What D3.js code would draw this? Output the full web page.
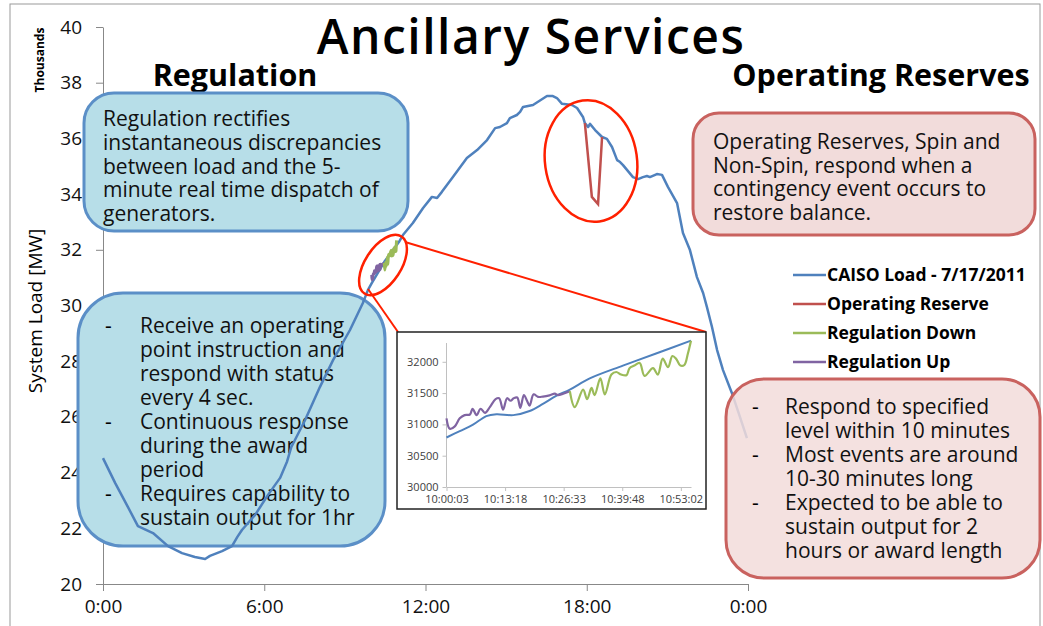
<!DOCTYPE html>
<html>
<head>
<meta charset="utf-8">
<script src="https://cdn.jsdelivr.net/npm/d3@7"></script>
<style>
  body { margin: 0; background: #fff; }
  text { font-family: "Open Sans", Lato, sans-serif; }
</style>
</head>
<body>
<div id="chart"></div>
<script>
const width = 1043;
const height = 626;

// CAISO load 7/17/2011, hour of day -> MW
const loadHours = [0, 0.45, 0.93, 1.3, 1.86, 2.42, 2.94, 3.42, 3.8, 3.98, 4.43, 4.8, 5.0, 5.17, 5.66, 6.14, 6.59, 6.85, 7.0,
  7.52, 8.07, 8.56, 9.19, 9.67, 9.86, 10.0, 10.49, 10.6, 11.01, 11.16, 11.53, 11.91, 12.24, 12.43, 12.61, 13.02, 13.54,
  13.92, 14.29, 14.59, 14.77, 15.03, 15.14, 15.4, 15.52, 15.63, 16.0, 16.52, 16.74, 16.89, 17.08, 17.45, 17.64, 17.86,
  17.93, 18.05, 18.12, 18.31, 18.57, 18.75, 18.94, 19.13, 19.24, 19.35, 19.72, 19.91, 20.09, 20.24, 20.35, 20.61, 20.8,
  21.02, 21.36, 21.58, 21.84, 22.1, 22.33, 22.47, 22.66, 22.85, 23.07, 23.4, 23.7, 23.96];
const loadMW = [24520, 23630, 22760, 22080, 21830, 21360, 21110, 20970, 20900, 21010, 21180, 21360, 21690, 21940, 22480, 23200, 23810, 24400, 24900,
  25890, 27070, 28040, 29120, 30090, 30560, 30800, 31600, 31740, 32280, 32530, 32960, 33500, 33900, 33860, 34080, 34610, 35300,
  35580, 35940, 36370, 36410, 36550, 36730, 36840, 36950, 37130, 37200, 37520, 37520, 37450, 37240, 37200, 37090, 36770,
  36550, 36410, 36520, 36300, 36050, 35980, 35690, 35220, 35150, 35040, 34610, 34540, 34610, 34650, 34610, 34720, 34690,
  34260, 33680, 32600, 31990, 31020, 30450, 29950, 29230, 28400, 27680, 26860, 26000, 25240];

// Operating reserve event
const reserveHours = [17.93, 18.19, 18.42, 18.57];
const reserveMW = [36550, 33900, 33640, 36050];

// Inset: minutes after 10:00:03
const insetLoadMin = [0, 3.0, 6.0, 9.0, 11.3, 15.1, 18.8, 21.8, 24.8, 27.9, 32.4, 39.9, 47.4, 55.3];
const insetLoadMW = [30791, 30893, 30995, 31133, 31163, 31148, 31214, 31327, 31454, 31556, 31735, 31939, 32133, 32337];
const regUpMin = [0, 0.75, 1.88, 3.0, 4.1, 5.3, 5.9, 6.8, 7.7, 8.7, 9.8, 11.1, 11.9, 12.8, 13.7, 14.5, 15.2, 16.0, 16.7,
  17.5, 18.2, 18.8, 19.7, 20.7, 21.8, 23.3, 24.5, 25.2, 26.4, 27.9];
const regUpMW = [31097, 30929, 30969, 31097, 31148, 31158, 31250, 31148, 31250, 31184, 31276, 31403, 31418, 31235, 31418,
  31378, 31418, 31429, 31265, 31469, 31378, 31301, 31480, 31439, 31444, 31464, 31490, 31469, 31490, 31530];
const regDownMin = [27.9, 29.0, 30.9, 31.8, 32.8, 33.5, 34.8, 35.8, 37.3, 38.4, 39.5, 40.7, 41.4, 42.5, 43.7, 44.8, 46.7,
  47.8, 48.9, 50.1, 51.1, 52.0, 52.9, 53.8, 54.6, 55.3];
const regDownMW = [31530, 31276, 31556, 31403, 31582, 31469, 31735, 31480, 31796, 31837, 31796, 31786, 31898, 31939, 31980,
  31776, 31898, 31796, 32051, 31913, 32092, 32041, 31939, 31949, 32133, 32337];

const yTicks = [20000, 22000, 24000, 26000, 28000, 30000, 32000, 34000, 36000, 38000, 40000];
const xTicks = [0, 6, 12, 18, 24];
const xTickLabels = ["0:00", "6:00", "12:00", "18:00", "0:00"];
const insetYTicks = [30000, 30500, 31000, 31500, 32000];
const insetXTicks = [0, 13.25, 26.5, 39.75, 53];
const insetXLabels = ["10:00:03", "10:13:18", "10:26:33", "10:39:48", "10:53:02"];

const legendNames = ["CAISO Load - 7/17/2011", "Operating Reserve", "Regulation Down", "Regulation Up"];
const colors = ["#4f81bd", "#c0504d", "#9bbb59", "#8064a2"];

const zip = (a, b) => a.map((d, i) => [d, b[i]]);

const svg = d3.select("#chart")
    .append("svg")
    .attr("width", width)
    .attr("height", height);

// outer frame
svg.append("rect")
    .attr("x", 10).attr("y", 4)
    .attr("width", 1030).attr("height", 660)
    .attr("fill", "none").attr("stroke", "#9a9a9a").attr("stroke-width", 1);

// Scales
const x = d3.scaleLinear().domain([0, 24]).range([103, 748]);
const y = d3.scaleLinear().domain([20000, 40000]).range([584, 27]);

// ----- Axes -----
const gY = svg.append("g")
    .attr("transform", "translate(103,0)")
    .call(d3.axisLeft(y).tickValues(yTicks).tickFormat(d => d / 1000).tickSize(7).tickSizeOuter(0).tickPadding(14));
const gX = svg.append("g")
    .attr("transform", "translate(0,584)")
    .call(d3.axisBottom(x).tickValues(xTicks).tickFormat((d, i) => xTickLabels[i]).tickSize(7).tickSizeOuter(0).tickPadding(9));
[gX, gY].forEach(g => {
    g.selectAll("path, line").attr("stroke", "#888");
    g.selectAll("text").attr("font-size", 19).attr("fill", "#111").attr("font-family", "'Open Sans', sans-serif");
});

svg.append("text")
    .attr("transform", "translate(42,311) rotate(-90)")
    .attr("text-anchor", "middle")
    .attr("font-size", 19)
    .attr("font-family", "Lato, sans-serif")
    .text("System Load [MW]");
svg.append("text")
    .attr("transform", "translate(44,60) rotate(-90)")
    .attr("text-anchor", "middle")
    .attr("font-size", 12)
    .attr("font-weight", "bold")
    .attr("font-family", "Lato, sans-serif")
    .text("Thousands");

// Titles
svg.append("text").attr("x", 531).attr("y", 54).attr("text-anchor", "middle")
    .attr("font-size", 48).attr("font-weight", 600).attr("letter-spacing", 1.5).text("Ancillary Services");
svg.append("text").attr("x", 235).attr("y", 86).attr("text-anchor", "middle")
    .attr("font-size", 30.5).attr("font-weight", "bold").text("Regulation");
svg.append("text").attr("x", 881).attr("y", 86).attr("text-anchor", "middle")
    .attr("font-size", 30.5).attr("font-weight", "bold").text("Operating Reserves");

// ----- Callout boxes -----
const boxFont = 21;
function box(x0, y0, x1, y1, r, fill, stroke, op) {
    return svg.append("rect")
        .attr("x", x0).attr("y", y0)
        .attr("width", x1 - x0).attr("height", y1 - y0)
        .attr("rx", r).attr("ry", r)
        .attr("fill", fill).attr("fill-opacity", op)
        .attr("stroke", stroke).attr("stroke-width", 3);
}
function lines(x0, y0, arr, step) {
    const t = svg.append("text").attr("font-size", boxFont).attr("fill", "#111");
    arr.forEach((s, i) => t.append("tspan").attr("x", x0).attr("y", y0 + i * step).text(s));
}
function bullets(xd, xt, y0, step, items) {
    let row = 0;
    items.forEach(item => {
        svg.append("text").attr("x", xd).attr("y", y0 + row * step).attr("font-size", boxFont).text("-");
        lines(xt, y0 + row * step, item, step);
        row += item.length;
    });
}

box(84, 93, 408, 231, 30, "#b7dee8", "#5b8fc7", 1);
lines(103, 126, ["Regulation rectifies", "instantaneous discrepancies", "between load and the 5-",
    "minute real time dispatch of", "generators."], 23.8);

box(78, 293, 385, 546, 45, "#b7dee8", "#5b8fc7", 1);
bullets(105, 140, 333, 24, [
    ["Receive an operating", "point instruction and", "respond with status", "every 4 sec."],
    ["Continuous response", "during the award", "period"],
    ["Requires capability to", "sustain output for 1hr"]
]);

box(693, 113, 1035, 235, 26, "#f2dcdb", "#c9625f", 1);
lines(713, 149, ["Operating Reserves, Spin and", "Non-Spin, respond when a",
    "contingency event occurs to", "restore balance."], 23.5);

// ----- Lines -----
const line = d3.line().x(d => x(d[0])).y(d => y(d[1]));
svg.append("path")
    .datum(zip(loadHours, loadMW))
    .attr("d", line)
    .attr("fill", "none").attr("stroke", colors[0]).attr("stroke-width", 2.5)
    .attr("stroke-linejoin", "round");
svg.append("path")
    .datum(zip(reserveHours, reserveMW))
    .attr("d", line)
    .attr("fill", "none").attr("stroke", colors[1]).attr("stroke-width", 2.5);

const toHour = m => 10 + 3 / 3600 + m / 60;
const smooth = d3.line().curve(d3.curveCatmullRom).x(d => x(toHour(d[0]))).y(d => y(d[1]));
svg.append("path").datum(zip(regUpMin, regUpMW)).attr("d", smooth)
    .attr("fill", "none").attr("stroke", colors[3]).attr("stroke-width", 3);
svg.append("path").datum(zip(regDownMin, regDownMW)).attr("d", smooth)
    .attr("fill", "none").attr("stroke", colors[2]).attr("stroke-width", 3);

// lower right box, drawn over the line
box(726, 379, 1040, 578, 38, "#f2dcdb", "#c9625f", 0.85);
bullets(752, 785, 414, 24, [
    ["Respond to specified", "level within 10 minutes"],
    ["Most events are around", "10-30 minutes long"],
    ["Expected to be able to", "sustain output for 2", "hours or award length"]
]);

// ----- Annotation ellipses -----
svg.append("ellipse")
    .attr("transform", "translate(383,265) rotate(-57)")
    .attr("rx", 34).attr("ry", 18)
    .attr("fill", "none").attr("stroke", "#ff2000").attr("stroke-width", 2.5);
svg.append("ellipse")
    .attr("transform", "translate(591,161) rotate(-8)")
    .attr("rx", 46).attr("ry", 61)
    .attr("fill", "none").attr("stroke", "#ff2000").attr("stroke-width", 2.5);
svg.append("line").attr("x1", 368).attr("y1", 289).attr("x2", 398).attr("y2", 332)
    .attr("stroke", "#ff2000").attr("stroke-width", 2);
svg.append("line").attr("x1", 405).attr("y1", 242).attr("x2", 706).attr("y2", 332)
    .attr("stroke", "#ff2000").attr("stroke-width", 2);

// ----- Legend -----
const legend = svg.append("g");
legendNames.forEach((name, i) => {
    const ly = 275 + i * 29;
    legend.append("line").attr("x1", 793).attr("x2", 826).attr("y1", ly).attr("y2", ly)
        .attr("stroke", colors[i]).attr("stroke-width", 2.5);
    legend.append("text").attr("x", 827).attr("y", ly + 6)
        .attr("font-size", 17.5).attr("font-weight", "bold").text(name);
});

// ----- Inset -----
const inset = svg.append("g");
inset.append("rect").attr("x", 397).attr("y", 332).attr("width", 309).attr("height", 177)
    .attr("fill", "#fff").attr("stroke", "#222").attr("stroke-width", 1.5);
const ix = d3.scaleLinear().domain([0, 55.3]).range([446.5, 691]);
const iy = d3.scaleLinear().domain([30000, 32300]).range([487, 343]);
const giy = inset.append("g").attr("transform", "translate(446.5,0)")
    .call(d3.axisLeft(iy).tickValues(insetYTicks).tickFormat(d3.format("d")).tickSize(4).tickSizeOuter(0).tickPadding(4));
const gix = inset.append("g").attr("transform", "translate(0,487)")
    .call(d3.axisBottom(ix).tickValues(insetXTicks).tickFormat((d, i) => insetXLabels[i]).tickSize(4).tickSizeOuter(0).tickPadding(4));
[giy, gix].forEach(g => {
    g.selectAll("path, line").attr("stroke", "#c0c0c0");
    g.selectAll("text").attr("font-size", 11).attr("fill", "#404040").attr("font-family", "Lato, sans-serif");
});
giy.select(".domain").attr("d", "M0,343V487");
const iline = d3.line().curve(d3.curveCatmullRom).x(d => ix(d[0])).y(d => iy(d[1]));
inset.append("path").datum(zip(insetLoadMin, insetLoadMW)).attr("d", iline)
    .attr("fill", "none").attr("stroke", colors[0]).attr("stroke-width", 2);
inset.append("path").datum(zip(regUpMin, regUpMW)).attr("d", iline)
    .attr("fill", "none").attr("stroke", colors[3]).attr("stroke-width", 2.2);
inset.append("path").datum(zip(regDownMin, regDownMW)).attr("d", iline)
    .attr("fill", "none").attr("stroke", colors[2]).attr("stroke-width", 2.2);
</script>
</body>
</html>
